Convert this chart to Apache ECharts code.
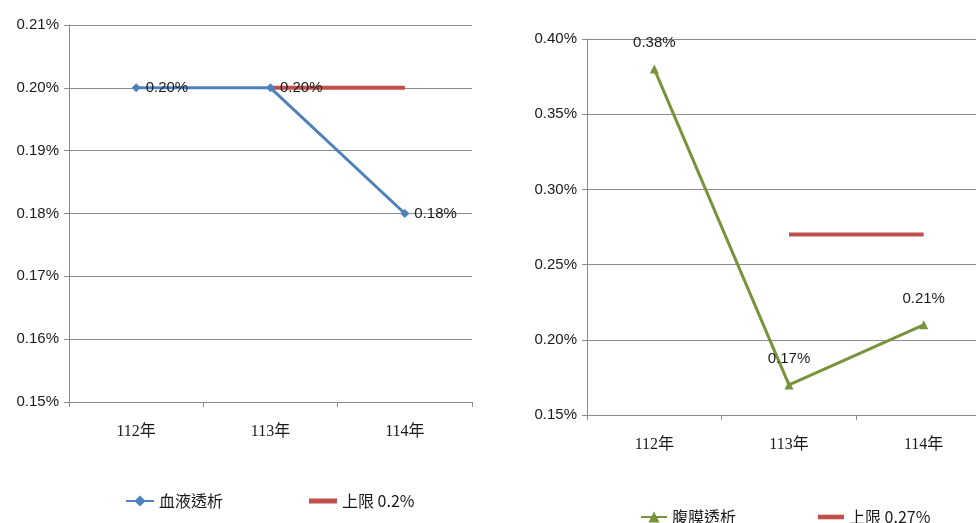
<!DOCTYPE html>
<html>
<head>
<meta charset="utf-8">
<script src="https://cdn.jsdelivr.net/npm/echarts@6/dist/echarts.min.js"></script>
<style>
  html, body { margin: 0; padding: 0; background: #fff; overflow: hidden; }
  /* the canvas is wider than the window so the right plot runs past the edge */
  #chart { width: 1000px; height: 523px; }
</style>
</head>
<body>
<div id="chart"></div>
<script>
// Years shown on both charts
const years = ['112年', '113年', '114年'];

// Hemodialysis rate (%) and its upper limit
const hemoName = '血液透析';
const hemoValues = [0.20, 0.20, 0.18];
const hemoLimitName = '上限 0.2%';
const hemoLimit = [null, 0.20, 0.20];
const hemoTicks = { min: 0.15, max: 0.21, step: 0.01 };

// Peritoneal dialysis rate (%) and its upper limit
const periName = '腹膜透析';
const periValues = [0.38, 0.17, 0.21];
const periLimitName = '上限 0.27%';
const periLimit = [null, 0.27, 0.27];
const periTicks = { min: 0.15, max: 0.40, step: 0.05 };

const BLUE = '#4F81BD';
const RED = '#C0504D';
const GREEN = '#77933C';
const GRID_GRAY = '#8c8c8c';
const numFont = 'Liberation Sans, Arial, sans-serif';
const catFont = 'Liberation Serif, Noto Sans CJK TC, serif';
const legFont = 'Noto Sans CJK TC, serif';
const barIcon = 'path://M0,0H28V5H0Z';

const pct = v => (Math.round(v * 100) / 100).toFixed(2) + '%';

function yAxis(idx, t) {
  return {
    type: 'value', gridIndex: idx, min: t.min, max: t.max, interval: t.step,
    axisLine: { show: true, lineStyle: { color: GRID_GRAY, width: 1 } },
    axisTick: { show: true, length: 5, lineStyle: { color: GRID_GRAY } },
    splitLine: { show: true, lineStyle: { color: GRID_GRAY, width: 1 } },
    axisLabel: { formatter: pct, color: '#1a1a1a', fontFamily: numFont, fontSize: 15, margin: 10 }
  };
}
function xAxis(idx) {
  return {
    type: 'category', gridIndex: idx, data: years, boundaryGap: true,
    axisLine: { show: true, lineStyle: { color: GRID_GRAY, width: 1 } },
    axisTick: { show: true, length: 5, alignWithLabel: false, lineStyle: { color: GRID_GRAY } },
    axisLabel: { color: '#1a1a1a', fontFamily: catFont, fontSize: 16, margin: 22 }
  };
}

const chart = echarts.init(document.getElementById('chart'), null, { renderer: 'canvas' });
chart.setOption({
  animation: false,
  backgroundColor: '#ffffff',
  grid: [
    { left: 69, top: 25, width: 403, bottom: 121 },
    { left: 587, top: 39, width: 404, bottom: 108 }
  ],
  xAxis: [xAxis(0), xAxis(1)],
  yAxis: [yAxis(0, hemoTicks), yAxis(1, periTicks)],
  legend: [
    {
      data: [hemoName, { name: hemoLimitName, icon: barIcon }],
      left: 120, top: 488, itemGap: 86,
      itemWidth: 28, itemHeight: 14,
      textStyle: { fontFamily: legFont, fontSize: 16, color: '#1a1a1a' }
    },
    {
      data: [periName, { name: periLimitName, icon: barIcon }],
      left: 635, top: 504, itemGap: 82,
      itemWidth: 26, itemHeight: 14,
      textStyle: { fontFamily: legFont, fontSize: 16, color: '#1a1a1a' }
    }
  ],
  series: [
    {
      name: hemoLimitName, type: 'line', xAxisIndex: 0, yAxisIndex: 0,
      data: hemoLimit, symbol: 'none', z: 2,
      lineStyle: { color: RED, width: 4 }, itemStyle: { color: RED }
    },
    {
      name: hemoName, type: 'line', xAxisIndex: 0, yAxisIndex: 0,
      data: hemoValues, symbol: 'diamond', symbolSize: 9, z: 3,
      lineStyle: { color: BLUE, width: 3 }, itemStyle: { color: BLUE },
      label: {
        show: true, position: 'right', distance: 5, formatter: p => pct(p.value),
        color: '#1a1a1a', fontFamily: numFont, fontSize: 15
      }
    },
    {
      name: periLimitName, type: 'line', xAxisIndex: 1, yAxisIndex: 1,
      data: periLimit, symbol: 'none', z: 2,
      lineStyle: { color: RED, width: 4 }, itemStyle: { color: RED }
    },
    {
      name: periName, type: 'line', xAxisIndex: 1, yAxisIndex: 1,
      data: periValues, symbol: 'triangle', symbolSize: 9, z: 3,
      lineStyle: { color: GREEN, width: 3 }, itemStyle: { color: GREEN },
      label: {
        show: true, position: 'top', distance: 14, formatter: p => pct(p.value),
        color: '#1a1a1a', fontFamily: numFont, fontSize: 15
      }
    }
  ]
});
</script>
</body>
</html>
